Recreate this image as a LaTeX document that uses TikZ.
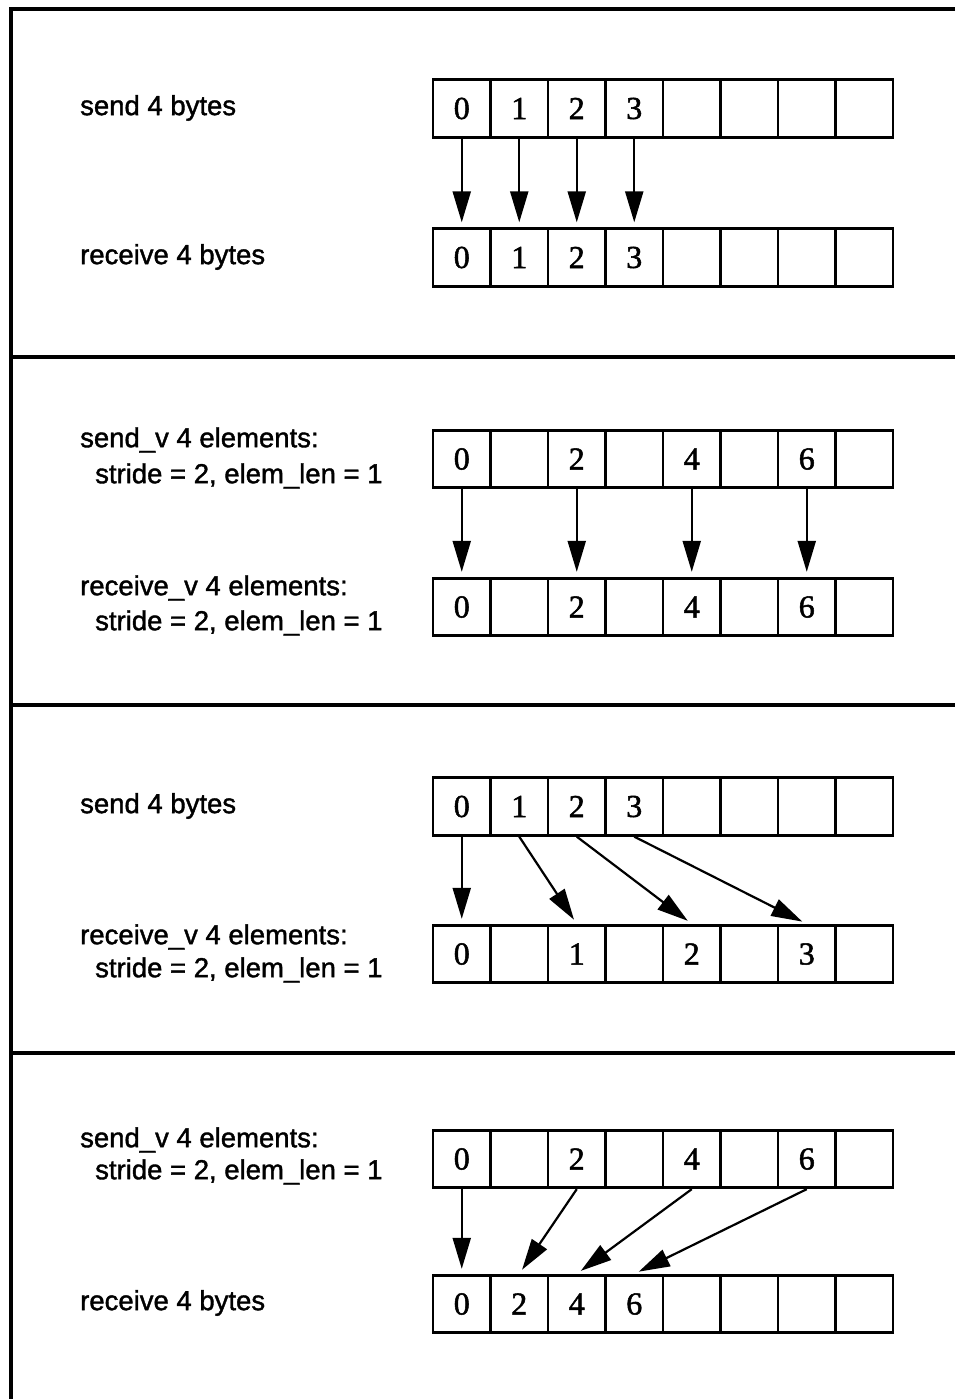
\documentclass[tikz,border=0pt]{standalone}
\usepackage{fontspec}
\setmainfont{Liberation Serif}[FakeBold=1.6]
\setsansfont{Liberation Sans}[FakeBold=1.4]
\usepackage{tikz}
\usetikzlibrary{arrows.meta, positioning}
\tikzset{x=1pt,y=-1pt, >={Triangle[length=31pt,width=18pt]}}

\begin{document}
\begin{tikzpicture}
% Style
[
    line cap=butt,
    frame line/.style={line width=3.5pt},
    cell/.style={draw, line width=2.8pt, minimum width=57.5pt, minimum height=57.5pt,
                 inner sep=0pt, font=\fontsize{32}{36}\selectfont},
    caption/.style={anchor=west, inner sep=0pt, font=\sffamily\fontsize{27.5}{32}\selectfont},
    copy arrow/.style={->, line width=2.2pt, shorten >=5pt}
]

%================================== Prepare ==================================
% row of 8 cells: #1 name, #2 y of centre, #3 cell texts
\def\cellrow#1#2#3{
    \foreach \t [count=\i from 0] in {#3} {
        \node [cell] (#1_\i) at (433+28.75+57.5*\i, #2) {\t};
    }
}

%=================================== Start ===================================
{
    \useasboundingbox (0,0) rectangle (955,1399);

    % Define: Frame
    \draw [frame line] (955,9) -- (11,9) -- (11,1399);
    \foreach \y in {357, 705, 1053} {
        \draw [frame line] (11,\y) -- (955,\y);
    }

    % Draw: send bytes -> receive bytes
    \node [caption] (snd1_text) at (80,108) {send 4 bytes};
    \node [caption] (rcv1_text) at (80,257) {receive 4 bytes};
    \cellrow{snd1}{108.5}{0,1,2,3,{},{},{},{}}
    \cellrow{rcv1}{257.5}{0,1,2,3,{},{},{},{}}
    \foreach \i in {0,...,3} {
        \draw [copy arrow] (snd1_\i.south) -- (rcv1_\i.north);
    }

    % Draw: send_v -> receive_v
    \node [caption] (snd2_text) at (80,440) {send\_v 4 elements:};
    \node [caption] (snd2_args) at (95,476) {stride = 2, elem\_len = 1};
    \node [caption] (rcv2_text) at (80,588) {receive\_v 4 elements:};
    \node [caption] (rcv2_args) at (95,623) {stride = 2, elem\_len = 1};
    \cellrow{snd2}{459}{0,{},2,{},4,{},6,{}}
    \cellrow{rcv2}{607}{0,{},2,{},4,{},6,{}}
    \foreach \i in {0,2,4,6} {
        \draw [copy arrow] (snd2_\i.south) -- (rcv2_\i.north);
    }

    % Draw: send bytes -> receive_v
    \node [caption] (snd3_text) at (80,806) {send 4 bytes};
    \node [caption] (rcv3_text) at (80,937) {receive\_v 4 elements:};
    \node [caption] (rcv3_args) at (95,970) {stride = 2, elem\_len = 1};
    \cellrow{snd3}{806.5}{0,1,2,3,{},{},{},{}}
    \cellrow{rcv3}{954}{0,{},1,{},2,{},3,{}}
    \foreach \i/\j in {0/0, 1/2, 2/4, 3/6} {
        \draw [copy arrow] (snd3_\i.south) -- (rcv3_\j.north);
    }

    % Draw: send_v -> receive bytes
    \node [caption] (snd4_text) at (80,1140) {send\_v 4 elements:};
    \node [caption] (snd4_args) at (95,1172) {stride = 2, elem\_len = 1};
    \node [caption] (rcv4_text) at (80,1303) {receive 4 bytes};
    \cellrow{snd4}{1159}{0,{},2,{},4,{},6,{}}
    \cellrow{rcv4}{1304}{0,2,4,6,{},{},{},{}}
    \foreach \i/\j in {0/0, 2/1, 4/2, 6/3} {
        \draw [copy arrow] (snd4_\i.south) -- (rcv4_\j.north);
    }
}
%==================================== END ====================================
\end{tikzpicture}
\end{document}
